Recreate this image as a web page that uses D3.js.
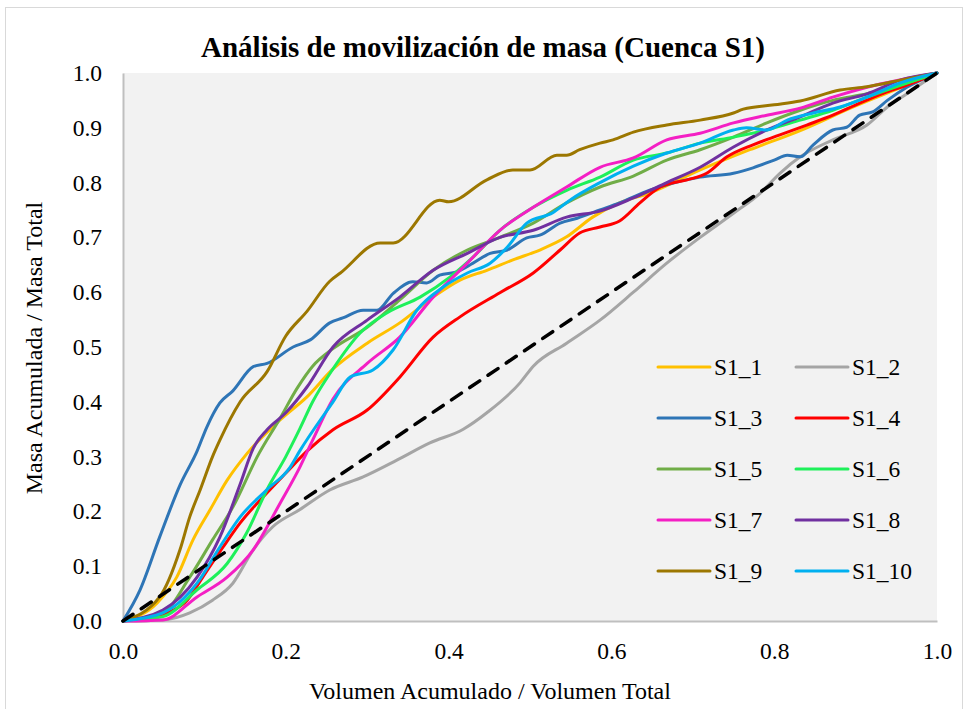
<!DOCTYPE html>
<html><head><meta charset="utf-8">
<script src="https://cdn.jsdelivr.net/npm/d3@7/dist/d3.min.js"></script>
<style>body{margin:0;background:#fff}svg{display:block}</style>
</head><body><svg id="c" width="965" height="709"></svg>
<script>
const title = "Análisis de movilización de masa (Cuenca S1)";
const xLabel = "Volumen Acumulado / Volumen Total";
const yLabel = "Masa Acumulada / Masa Total";
const ticks = [0.0,0.1,0.2,0.3,0.4,0.5,0.6,0.7,0.8,0.9,1.0];
const xTicks = [0.0,0.2,0.4,0.6,0.8,1.0];
const seriesNames = ["S1_1","S1_2","S1_3","S1_4","S1_5","S1_6","S1_7","S1_8","S1_9","S1_10"];
const seriesColors = ["#ffc000","#a5a5a5","#2e75b6","#ff0000","#70ad47","#1ef05a","#f41fc4","#7030a0","#9c7700","#00b0f0"];
const refLine = [[0,0],[1,1]];

const S1_1 = [[0,0],[0.042,0.033],[0.066,0.08],[0.086,0.148],[0.107,0.203],[0.128,0.257],[0.152,0.305],[0.193,0.367],[0.226,0.409],[0.258,0.46],[0.30,0.507],[0.34,0.544],[0.381,0.591],[0.414,0.622],[0.447,0.64],[0.479,0.659],[0.512,0.677],[0.545,0.701],[0.577,0.737],[0.61,0.763],[0.647,0.781],[0.709,0.823],[0.77,0.86],[0.832,0.895],[0.9,0.94],[0.95,0.97],[1,1]];
const S1_2 = [[0,0],[0.049,0.002],[0.082,0.015],[0.11,0.038],[0.135,0.069],[0.16,0.13],[0.184,0.172],[0.217,0.203],[0.254,0.239],[0.295,0.263],[0.337,0.294],[0.377,0.325],[0.418,0.35],[0.447,0.38],[0.488,0.435],[0.504,0.465],[0.545,0.507],[0.586,0.549],[0.627,0.60],[0.668,0.653],[0.709,0.70],[0.75,0.744],[0.783,0.781],[0.807,0.817],[0.832,0.847],[0.872,0.878],[0.914,0.905],[0.939,0.938],[0.963,0.962],[1,1]];
const S1_3 = [[0,0],[0.021,0.057],[0.045,0.153],[0.07,0.248],[0.091,0.31],[0.103,0.354],[0.119,0.398],[0.135,0.42],[0.16,0.464],[0.177,0.47],[0.209,0.50],[0.23,0.513],[0.254,0.544],[0.27,0.553],[0.295,0.567],[0.312,0.567],[0.332,0.598],[0.356,0.619],[0.373,0.617],[0.389,0.631],[0.41,0.637],[0.43,0.653],[0.451,0.671],[0.472,0.677],[0.496,0.699],[0.512,0.704],[0.537,0.726],[0.558,0.735],[0.586,0.75],[0.61,0.763],[0.647,0.786],[0.668,0.796],[0.709,0.81],[0.75,0.817],[0.774,0.827],[0.80,0.841],[0.816,0.85],[0.832,0.847],[0.848,0.869],[0.872,0.896],[0.889,0.901],[0.905,0.923],[0.921,0.929],[0.939,0.95],[0.963,0.974],[1,1]];
const S1_4 = [[0,0],[0.029,0.006],[0.058,0.017],[0.079,0.038],[0.098,0.08],[0.123,0.135],[0.144,0.179],[0.177,0.234],[0.2,0.27],[0.226,0.31],[0.258,0.349],[0.30,0.385],[0.34,0.445],[0.381,0.518],[0.414,0.555],[0.463,0.599],[0.504,0.635],[0.537,0.677],[0.561,0.708],[0.586,0.719],[0.61,0.73],[0.635,0.763],[0.66,0.792],[0.693,0.805],[0.717,0.817],[0.742,0.847],[0.774,0.869],[0.807,0.887],[0.84,0.905],[0.872,0.923],[0.905,0.945],[0.934,0.963],[0.963,0.978],[1,1]];
const S1_5 = [[0,0],[0.049,0.015],[0.082,0.08],[0.11,0.148],[0.135,0.208],[0.165,0.3],[0.193,0.37],[0.214,0.425],[0.233,0.465],[0.258,0.497],[0.30,0.536],[0.34,0.586],[0.381,0.64],[0.423,0.677],[0.463,0.70],[0.504,0.726],[0.545,0.763],[0.586,0.792],[0.627,0.812],[0.668,0.841],[0.709,0.86],[0.75,0.883],[0.791,0.909],[0.832,0.932],[0.872,0.95],[0.914,0.962],[1,1]];
const S1_6 = [[0,0],[0.049,0.008],[0.091,0.057],[0.128,0.105],[0.152,0.161],[0.177,0.24],[0.2,0.30],[0.217,0.35],[0.233,0.40],[0.258,0.46],[0.291,0.525],[0.324,0.562],[0.365,0.591],[0.402,0.628],[0.43,0.664],[0.463,0.713],[0.504,0.755],[0.545,0.786],[0.586,0.81],[0.627,0.841],[0.668,0.854],[0.709,0.872],[0.75,0.883],[0.791,0.896],[0.832,0.914],[0.872,0.932],[0.914,0.956],[1,1]];
const S1_7 = [[0,0],[0.049,0.002],[0.091,0.044],[0.128,0.08],[0.16,0.13],[0.193,0.215],[0.217,0.28],[0.233,0.33],[0.258,0.405],[0.30,0.47],[0.34,0.518],[0.381,0.591],[0.423,0.653],[0.463,0.713],[0.504,0.755],[0.545,0.792],[0.586,0.828],[0.627,0.845],[0.668,0.878],[0.709,0.89],[0.75,0.909],[0.791,0.923],[0.832,0.936],[0.872,0.956],[0.914,0.974],[1,1]];
const S1_8 = [[0,0],[0.049,0.02],[0.091,0.08],[0.119,0.153],[0.144,0.25],[0.16,0.315],[0.177,0.349],[0.20,0.38],[0.226,0.427],[0.258,0.50],[0.30,0.549],[0.34,0.591],[0.381,0.64],[0.423,0.671],[0.463,0.70],[0.504,0.713],[0.545,0.737],[0.586,0.748],[0.627,0.772],[0.668,0.80],[0.709,0.828],[0.75,0.865],[0.791,0.896],[0.832,0.92],[0.872,0.945],[0.914,0.962],[0.955,0.987],[1,1]];
const S1_9 = [[0,0],[0.045,0.044],[0.07,0.13],[0.082,0.19],[0.095,0.24],[0.11,0.30],[0.119,0.33],[0.144,0.40],[0.177,0.455],[0.20,0.52],[0.226,0.565],[0.254,0.62],[0.267,0.635],[0.316,0.69],[0.332,0.69],[0.389,0.768],[0.40,0.765],[0.447,0.805],[0.479,0.823],[0.50,0.823],[0.533,0.85],[0.545,0.85],[0.561,0.86],[0.586,0.872],[0.602,0.878],[0.627,0.892],[0.668,0.905],[0.709,0.914],[0.75,0.927],[0.762,0.934],[0.80,0.942],[0.832,0.949],[0.881,0.969],[0.914,0.975],[0.955,0.987],[1,1]];
const S1_10 = [[0,0],[0.049,0.015],[0.091,0.069],[0.119,0.135],[0.144,0.19],[0.177,0.24],[0.205,0.28],[0.217,0.31],[0.258,0.40],[0.279,0.445],[0.307,0.458],[0.332,0.495],[0.361,0.567],[0.393,0.609],[0.423,0.635],[0.451,0.653],[0.472,0.682],[0.496,0.726],[0.528,0.745],[0.549,0.768],[0.586,0.80],[0.627,0.83],[0.668,0.854],[0.709,0.872],[0.75,0.896],[0.766,0.90],[0.791,0.896],[0.816,0.914],[0.848,0.927],[0.881,0.938],[0.914,0.956],[0.955,0.982],[1,1]];
const seriesData = [S1_1,S1_2,S1_3,S1_4,S1_5,S1_6,S1_7,S1_8,S1_9,S1_10];

const svg = d3.select("#c");
const font = "'Liberation Serif','Times New Roman',serif";
const L = 123, R = 937, T = 73, B = 621;
const x = d3.scaleLinear().domain([0,1]).range([L,R]);
const y = d3.scaleLinear().domain([0,1]).range([B,T]);

svg.append("rect").attr("x",5.5).attr("y",7.5).attr("width",957).attr("height",710)
  .attr("fill","#fff").attr("stroke","#d9d9d9").attr("stroke-width",1);
svg.append("rect").attr("x",L).attr("y",T).attr("width",R-L).attr("height",B-T).attr("fill","#f2f2f2");

svg.append("text").attr("x",483).attr("y",57).attr("text-anchor","middle")
  .attr("font-family",font).attr("font-weight","bold").attr("font-size",29).attr("fill","#000").text(title);

const yAx = svg.append("g").attr("transform",`translate(${L},0)`)
  .call(d3.axisLeft(y).tickValues(ticks).tickFormat(d3.format(".1f")).tickSize(0).tickPadding(21));
yAx.select(".domain").attr("stroke","#bfbfbf").attr("stroke-width",2);
yAx.selectAll("text").attr("font-family",font).attr("font-size",23.5).attr("fill","#000");

const xAx = svg.append("g").attr("transform",`translate(0,${B})`)
  .call(d3.axisBottom(x).tickValues(xTicks).tickFormat(d3.format(".1f")).tickSize(0).tickPadding(21));
xAx.select(".domain").attr("stroke","#bfbfbf").attr("stroke-width",2);
xAx.selectAll("text").attr("font-family",font).attr("font-size",23.5).attr("fill","#000");

svg.append("text").attr("x",490).attr("y",699).attr("text-anchor","middle")
  .attr("font-family",font).attr("font-size",24).attr("fill","#000").text(xLabel);
svg.append("text").attr("transform","translate(42,348) rotate(-90)").attr("text-anchor","middle")
  .attr("font-family",font).attr("font-size",24).attr("fill","#000").text(yLabel);

const line = d3.line().x(d=>x(d[0])).y(d=>y(d[1])).curve(d3.curveMonotoneX);
const g = svg.append("g");
seriesData.forEach((s,i)=>{
  g.append("path").datum(s).attr("d",line).attr("fill","none")
   .attr("stroke",seriesColors[i]).attr("stroke-width",3).attr("stroke-linejoin","round").attr("stroke-linecap","round");
});
g.append("path").datum(refLine).attr("d",d3.line().x(d=>x(d[0])).y(d=>y(d[1])))
  .attr("fill","none").attr("stroke","#000").attr("stroke-width",3.5).attr("stroke-dasharray","12,10").attr("stroke-linecap","round");

const lg = svg.append("g");
seriesNames.forEach((n,i)=>{
  const col = i%2, row = Math.floor(i/2);
  const lx = 658 + col*138, ly = 367 + row*51;
  lg.append("line").attr("x1",lx).attr("x2",lx+52).attr("y1",ly).attr("y2",ly)
    .attr("stroke",seriesColors[i]).attr("stroke-width",3).attr("stroke-linecap","round");
  lg.append("text").attr("x",lx+56).attr("y",ly+8).attr("font-family",font).attr("font-size",23.5).attr("fill","#000").text(n);
});
</script></body></html>
